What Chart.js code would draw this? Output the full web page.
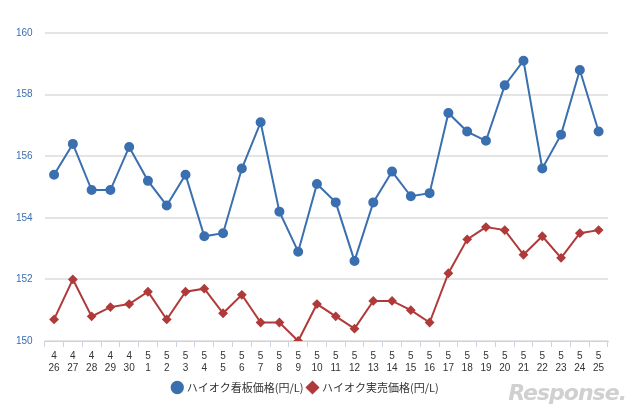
<!DOCTYPE html>
<html lang="ja">
<head>
<meta charset="UTF-8">
<script src="https://cdn.jsdelivr.net/npm/chart.js"></script>
<style>
  body { margin: 0; background: #fff; }
  #wrap { width: 640px; height: 413px; position: relative; }
  #logo { position: absolute; right: 14px; bottom: 8px; font: italic bold 22px "DejaVu Sans", sans-serif; color: #d0d0d0; letter-spacing: -1px; }
</style>
</head>
<body>
<div id="wrap">
  <canvas id="myChart" width="640" height="413"></canvas>
  <div id="logo">Response.</div>
</div>
<script>
// 日付ラベル (月, 日)
const months = ['4','4','4','4','4','5','5','5','5','5','5','5','5','5','5','5','5','5','5','5','5','5','5','5','5','5','5','5','5','5'];
const days = ['26','27','28','29','30','1','2','3','4','5','6','7','8','9','10','11','12','13','14','15','16','17','18','19','20','21','22','23','24','25'];
const kanban = [155.4,156.4,154.9,154.9,156.3,155.2,154.4,155.4,153.4,153.5,155.6,157.1,154.2,152.9,155.1,154.5,152.6,154.5,155.5,154.7,154.8,157.4,156.8,156.5,158.3,159.1,155.6,156.7,158.8,156.8];
const jitsubai = [150.7,152.0,150.8,151.1,151.2,151.6,150.7,151.6,151.7,150.9,151.5,150.6,150.6,150.0,151.2,150.8,150.4,151.3,151.3,151.0,150.6,152.2,153.3,153.7,153.6,152.8,153.4,152.7,153.5,153.6];

const labels = months.map((m, i) => [m, days[i]]);
const font = { family: 'Liberation Sans, sans-serif', size: 10 };

new Chart(document.querySelector('#myChart'), {
  type: 'line',
  data: {
    labels: labels,
    datasets: [
      { label: 'ハイオク看板価格(円/L)', data: kanban, borderColor: '#3a6fb0', backgroundColor: '#3a6fb0',
        borderWidth: 2, pointRadius: 4, pointStyle: 'circle', tension: 0 },
      { label: 'ハイオク実売価格(円/L)', data: jitsubai, borderColor: '#b03a3a', backgroundColor: '#b03a3a',
        borderWidth: 2, pointRadius: 3.5, pointStyle: 'rectRot', tension: 0 }
    ]
  },
  options: {
    responsive: false,
    animation: false,
    layout: { padding: { left: 4, right: 32, top: 33, bottom: 10 } },
    plugins: {
      legend: {
        position: 'bottom',
        labels: {
          usePointStyle: true, boxWidth: 8, boxHeight: 8, padding: 5,
          font: { family: 'Noto Sans CJK JP, sans-serif', size: 11 }, color: '#333'
        }
      },
      tooltip: { enabled: false }
    },
    scales: {
      x: {
        offset: true,
        grid: { display: true, drawOnChartArea: false, offset: true, tickLength: 6, color: '#c8d4e4' },
        border: { color: '#c8d4e4' },
        ticks: { font: font, color: '#333', maxRotation: 0, autoSkip: false }
      },
      y: {
        min: 150, max: 160,
        ticks: { stepSize: 2, font: font, color: '#3a6fb0', padding: 12 },
        grid: { color: '#e4e4e4', lineWidth: 2, drawTicks: false },
        border: { display: false }
      }
    }
  }
});
</script>
</body>
</html>
